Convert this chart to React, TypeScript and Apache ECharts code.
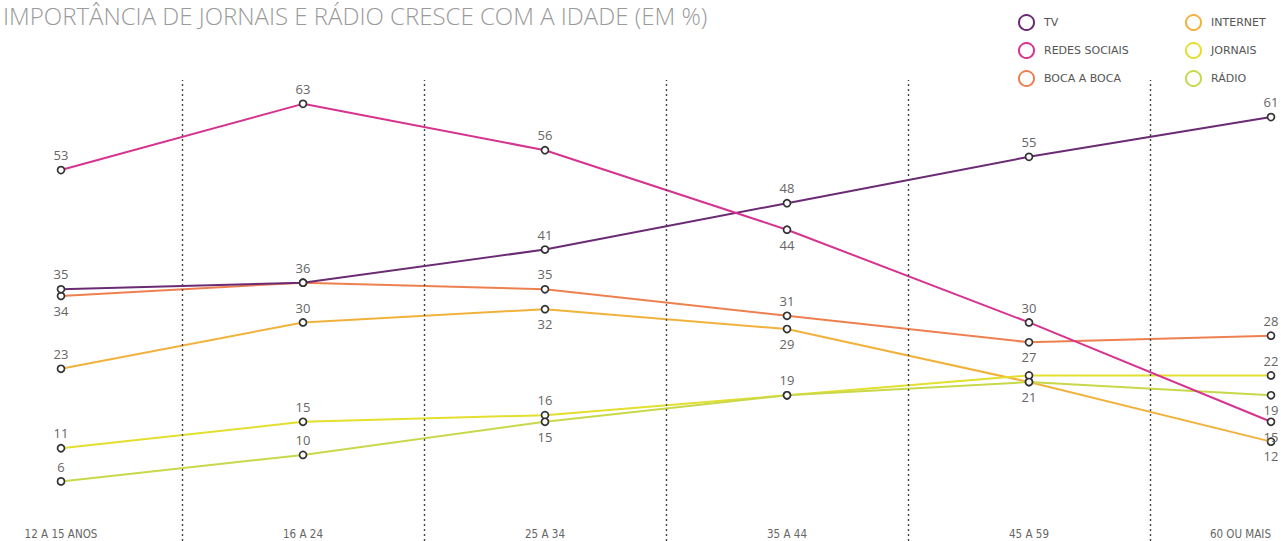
import React, { useEffect, useRef } from "react";
import * as echarts from "echarts";

const titleText = "IMPORTÂNCIA DE JORNAIS E RÁDIO CRESCE COM A IDADE (EM %)";
const categories = ["12 A 15 ANOS", "16 A 24", "25 A 34", "35 A 44", "45 A 59", "60 OU MAIS"];
const seriesNames = ["TV", "REDES SOCIAIS", "BOCA A BOCA", "INTERNET", "JORNAIS", "RÁDIO"];
const tvValues = [35, 36, 41, 48, 55, 61];
const redesValues = [53, 63, 56, 44, 30, 15];
const bocaValues = [34, 36, 35, 31, 27, 28];
const internetValues = [23, 30, 32, 29, 21, 12];
const jornaisValues = [11, 15, 16, 19, 22, 22];
const radioValues = [6, 10, 15, 19, 21, 19];
const dividers = [0.5, 1.5, 2.5, 3.5, 4.5];

// label placement per point (style config)
const tvLabel = ["top", "top", "top", "top", "top", "top"];
const redesLabel = ["top", "top", "top", "bottom", "top", "bottom"];
const bocaLabel = ["bottom", "none", "top", "top", "bottom", "top"];
const internetLabel = ["top", "top", "bottom", "bottom", "bottom", "bottom"];
const jornaisLabel = ["top", "top", "top", "top", "none", "top"];
const radioLabel = ["top", "top", "bottom", "none", "none", "bottom"];

const colors = ["#6b2a74", "#d6338f", "#ee8050", "#f1b23c", "#e3df2e", "#c8d84a"];

function buildData(values: number[], pos: string[]) {
  return values.map((v, i) => ({
    value: [i, v],
    label: pos[i] === "none" ? { show: false } : { show: true, position: pos[i] },
  }));
}

export default function App() {
  const ref = useRef<HTMLDivElement>(null);
  useEffect(() => {
    document.body.style.margin = "0";
    if (!ref.current) return;
    const chart = echarts.init(ref.current, undefined, { renderer: "svg" });
    const allValues = [tvValues, redesValues, bocaValues, internetValues, jornaisValues, radioValues];
    const allLabels = [tvLabel, redesLabel, bocaLabel, internetLabel, jornaisLabel, radioLabel];
    const zs = [3, 4, 2, 2, 2, 2];
    const series: any[] = seriesNames.map((name, k) => ({
      name,
      type: "line",
      data: buildData(allValues[k], allLabels[k]),
      symbol: "circle",
      symbolSize: 7,
      z: zs[k],
      lineStyle: { color: colors[k], width: 2 },
      itemStyle: { color: "#fff", borderColor: "#333", borderWidth: 1.7 },
      label: {
        show: true,
        color: "#666",
        fontSize: 13,
        fontFamily: "Open Sans",
        distance: 4,
        formatter: (p: any) => String(p.value[1]),
      },
      emphasis: { disabled: true },
    }));
    series[0].markLine = {
      silent: true,
      symbol: "none",
      label: { show: false },
      lineStyle: { color: "#444", type: [2, 3], width: 1.4 },
      data: dividers.map((d) => ({ xAxis: d })),
    };
    const legendItem = (k: number) => ({
      name: seriesNames[k],
      icon: "circle",
      itemStyle: { color: "#fff", borderColor: colors[k], borderWidth: 2 },
    });
    const legendCommon = {
      orient: "vertical",
      top: 9,
      itemWidth: 15,
      itemHeight: 15,
      itemGap: 11,
      selectedMode: false,
      textStyle: { color: "#555", fontSize: 11, fontFamily: "DejaVu Sans", padding: [0, 0, 0, 5] },
    };
    chart.setOption({
      animation: false,
      title: {
        text: titleText,
        left: -2,
        top: 3,
        padding: [0, 5, 5, 5],
        textStyle: { color: "#9a9a9a", fontSize: 24, fontWeight: 300, fontFamily: "Open Sans" },
      },
      legend: [
        { ...legendCommon, left: 1013, data: [0, 1, 2].map(legendItem) },
        { ...legendCommon, left: 1180, data: [3, 4, 5].map(legendItem) },
      ],
      grid: { left: 61, right: 10, top: 80, bottom: 0, outerBoundsMode: "none", containLabel: false },
      xAxis: {
        type: "value",
        min: 0,
        max: 5,
        interval: 1,
        axisLine: { show: false },
        axisTick: { show: false },
        splitLine: { show: false },
        axisLabel: {
          inside: true,
          margin: 1,
          showMinLabel: true,
          showMaxLabel: true,
          hideOverlap: false,
          alignMaxLabel: "right",
          color: "#666",
          fontSize: 11.5,
          fontFamily: "DejaVu Sans Condensed",
          formatter: (v: number) => categories[v] ?? "",
        },
      },
      yAxis: {
        type: "value",
        min: -3,
        max: 66.6,
        show: false,
        splitLine: { show: false },
      },
      series,
    });
    return () => chart.dispose();
  }, []);
  return <div ref={ref} style={{ width: 1281, height: 541 }} />;
}
